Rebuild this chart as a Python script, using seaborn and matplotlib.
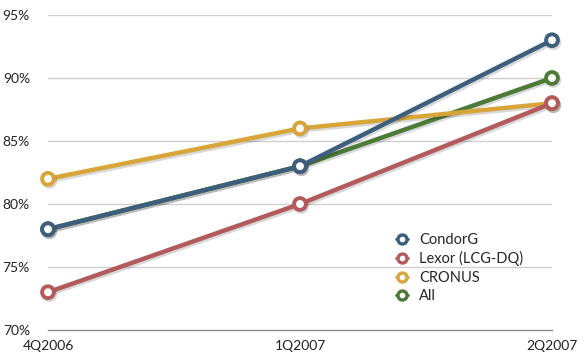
import matplotlib
matplotlib.use("Agg")
import matplotlib.pyplot as plt
import matplotlib.patheffects as pe
import seaborn as sns
import pandas as pd

quarters = ["4Q2006", "1Q2007", "2Q2007"]
condorg = [78, 83, 93]
lexor = [73, 80, 88]
cronus = [82, 86, 88]
all_sites = [78, 83, 90]

series_names = ["CondorG", "Lexor (LCG-DQ)", "CRONUS", "All"]
series_values = [condorg, lexor, cronus, all_sites]
colors = {"CondorG": "#3e5e7e", "Lexor (LCG-DQ)": "#b25a5c",
          "CRONUS": "#d8a53a", "All": "#4c7a38"}

rows = []
for name, vals in zip(series_names, series_values):
    for i, (q, v) in enumerate(zip(quarters, vals)):
        rows.append({"quarter": q, "pos": i, "value": v, "series": name})
df = pd.DataFrame(rows)

sns.set_theme(style="white")
plt.rcParams["font.family"] = ["Lato", "DejaVu Sans"]

fig = plt.figure(figsize=(5.87, 3.58), dpi=100)
ax = fig.add_axes([48 / 587, 1 - 330 / 358, 504 / 587, 315 / 358])

# draw order: All underneath, CondorG on top
draw_order = ["All", "CRONUS", "Lexor (LCG-DQ)", "CondorG"]
shadow = [pe.SimpleLineShadow(offset=(1, -1.5), shadow_color="black", alpha=0.15), pe.Normal()]
for name in draw_order:
    sub = df[df.series == name]
    sns.lineplot(data=sub, x="pos", y="value", ax=ax, color=colors[name],
                 linewidth=3.2, marker="o", markersize=8.5, markerfacecolor="white",
                 markeredgecolor=colors[name], markeredgewidth=2.8,
                 label=name, clip_on=False, zorder=3, path_effects=shadow)

ax.set_xlim(0, 2)
ax.set_ylim(70, 95)
ax.set_xticks(range(len(quarters)))
ax.set_xticklabels(quarters)
yt = [70, 75, 80, 85, 90, 95]
ax.set_yticks(yt)
ax.set_yticklabels([f"{v}%" for v in yt])
ax.set_xlabel("")
ax.set_ylabel("")
ax.tick_params(axis="both", length=0, labelsize=10, colors="#222222")
ax.tick_params(axis="y", pad=13)
ax.tick_params(axis="x", pad=7)
for v in yt[1:]:
    ax.axhline(v, color="#d0d0d0", linewidth=1, zorder=1)
for s in ["top", "right", "left"]:
    ax.spines[s].set_visible(False)
ax.spines["bottom"].set_color("#8a8a8a")
ax.spines["bottom"].set_linewidth(1)

handles, labels = ax.get_legend_handles_labels()
order = [labels.index(n) for n in series_names]
leg = ax.legend([handles[i] for i in order], [labels[i] for i in order],
                loc="upper left", bbox_to_anchor=(342 / 504, (330 - 227) / 315),
                frameon=False, fontsize=10.5, handlelength=0.8, handletextpad=0.8,
                labelspacing=0.3, borderaxespad=0)
for h in leg.legend_handles:
    h.set_linewidth(2)
    h.set_markersize(6.5)
    h.set_markeredgewidth(2.4)
    h.set_path_effects([])

fig.savefig("out.png", dpi=100)
